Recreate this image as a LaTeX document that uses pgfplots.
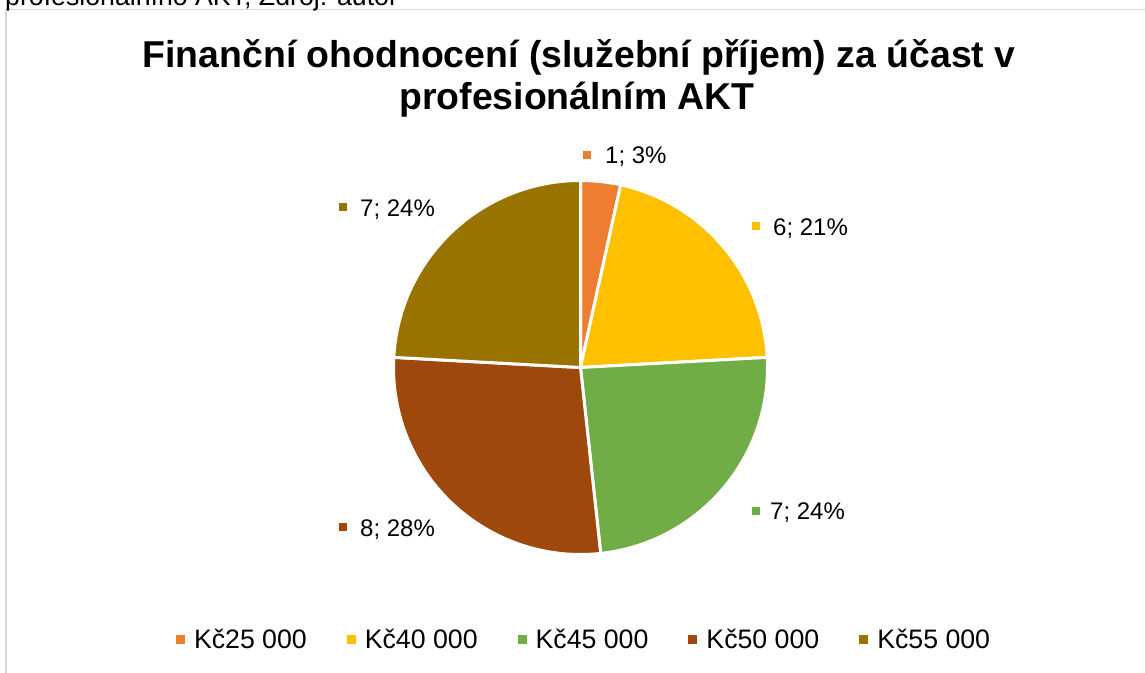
\documentclass[border=0pt]{standalone}
\usepackage{pgfplots}
\pgfplotsset{compat=1.18}
\usepackage{pgfplotstable}
\usepackage{fontspec}
\setmainfont{Liberation Sans}
\definecolor{c25}{HTML}{ED7D31}
\definecolor{c40}{HTML}{FFC000}
\definecolor{c45}{HTML}{70AD47}
\definecolor{c50}{HTML}{9E480E}
\definecolor{c55}{HTML}{997300}
\definecolor{framegray}{HTML}{D9D9D9}
\newcommand\lblfont{\fontsize{24bp}{28bp}\selectfont}
\newcommand\legfont{\fontsize{26.7bp}{31bp}\selectfont}
\newcommand\titfont{\fontsize{37.4bp}{42bp}\selectfont\bfseries}

% count of respondents per income category
\pgfplotstableread{
cat val
Kc25000 1
Kc40000 6
Kc45000 7
Kc50000 8
Kc55000 7
}\piedata

\begin{document}
\begin{tikzpicture}
\begin{axis}[
  hide axis, scale only axis,
  width=1145bp, height=673bp,
  xmin=0, xmax=1145, ymin=0, ymax=673,
  clip=false,
  legend columns=5,
  legend image code/.code={\fill[#1] (0bp,-4.5bp) rectangle (9bp,4.5bp);},
  legend style={draw=none, fill=none, at={(axis cs:176,33)}, anchor=west,
    font=\legfont, inner sep=0pt, outer sep=0pt,
    nodes={inner sep=0pt},
    /tikz/every odd column/.append style={column sep=9bp},
    /tikz/every even column/.append style={column sep=40bp}},
]
\addlegendimage{fill=c25, draw=none}\addlegendentry{Kč25 000}
\addlegendimage{fill=c40, draw=none}\addlegendentry{Kč40 000}
\addlegendimage{fill=c45, draw=none}\addlegendentry{Kč45 000}
\addlegendimage{fill=c50, draw=none}\addlegendentry{Kč50 000}
\addlegendimage{fill=c55, draw=none}\addlegendentry{Kč55 000}

\pgfplotsextra{%
  % frame
  \draw[framegray, line width=1.5bp] (axis cs:6,0) -- (axis cs:6,663.5) -- (axis cs:1145,663.5);
  % cut-off caption above the chart
  \node[anchor=base west, inner sep=0pt, font=\legfont] at (axis cs:5,667.5) {profesionálního AKT, Zdroj: autor};
  % title
  \node[anchor=base, inner sep=0pt, font=\titfont] at (axis cs:579,605) {Finanční ohodnocení (služební příjem) za účast v};
  \node[anchor=base, inner sep=0pt, font=\titfont] at (axis cs:577,563) {profesionálním AKT};
  % total
  \xdef\tot{0}%
  \foreach \i in {0,...,4}{%
    \pgfplotstablegetelem{\i}{val}\of\piedata
    \pgfmathsetmacro\tt{\tot+\pgfplotsretval}%
    \xdef\tot{\tt}%
  }%
  \xdef\cum{0}%
  \foreach \i/\col/\mx/\my/\tx/\ty in {0/c25/587/517.5/605/509, 1/c40/756/447/773/437, 2/c45/756/161.5/770/153, 3/c50/342.5/145.5/360/136, 4/c55/342.5/466/360/456}{%
    \pgfplotstablegetelem{\i}{val}\of\piedata
    \let\vv\pgfplotsretval
    \pgfmathsetmacro\angA{90-360*\cum/\tot}%
    \pgfmathsetmacro\cumB{\cum+\vv}%
    \pgfmathsetmacro\angB{90-360*\cumB/\tot}%
    \xdef\cum{\cumB}%
    \filldraw[fill=\col, draw=white, line width=3bp, line join=round]
      (axis cs:580.5,305.5) -- ++(\angA:187bp) arc[start angle=\angA, end angle=\angB, radius=187bp] -- cycle;
    \pgfmathtruncatemacro\pct{round(100*\vv/\tot)}%
    \fill[\col] (axis cs:\mx,\my) ++(-4bp,-4bp) rectangle ++(8bp,8bp);
    \node[anchor=base west, inner sep=0pt, font=\lblfont] at (axis cs:\tx,\ty) {\vv; \pct\%};
  }%
}
\end{axis}
\pgfresetboundingbox
\useasboundingbox (current axis.south west) rectangle (current axis.north east);
\end{tikzpicture}
\end{document}
